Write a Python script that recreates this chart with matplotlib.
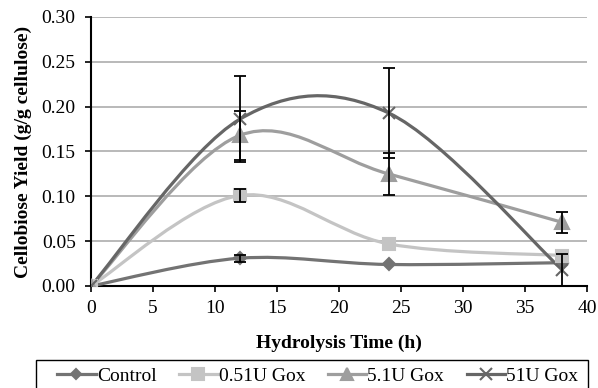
import numpy as np
import matplotlib
matplotlib.use("Agg")
import matplotlib.pyplot as plt
from matplotlib.path import Path
from matplotlib.patches import PathPatch, Rectangle
from matplotlib.lines import Line2D

plt.rcParams['font.family'] = ['Liberation Serif', 'DejaVu Serif']

# ── Data
hours = [0, 12, 24, 38]
labels = ["Control", "0.51U Gox", "5.1U Gox", "51U Gox"]
control = [0.0, 0.031, 0.024, 0.026]
gox_051 = [0.0, 0.101, 0.047, 0.034]
gox_51 = [0.0, 0.168, 0.125, 0.071]
gox_510 = [0.0, 0.186, 0.193, 0.018]
control_err = [0.0, 0.004, 0.0, 0.0]
gox_051_err = [0.0, 0.007, 0.0, 0.0]
gox_51_err = [0.0, 0.027, 0.023, 0.012]
gox_510_err = [0.0, 0.048, 0.050, 0.018]

series = [control, gox_051, gox_51, gox_510]
errors = [control_err, gox_051_err, gox_51_err, gox_510_err]
colors = ["#737373", "#c4c4c4", "#9e9e9e", "#666666"]
markers = ["D", "s", "^", "x"]
msizes = [6.5, 9, 9.5, 9]


# ── Excel-style smoothed line (Catmull-Rom as cubic Bezier)
def smooth_path(x, y):
    pts = np.column_stack([x, y]).astype(float)
    n = len(pts)
    verts = [pts[0]]
    codes = [Path.MOVETO]
    for i in range(n - 1):
        p0 = pts[max(i - 1, 0)]
        p1 = pts[i]
        p2 = pts[i + 1]
        p3 = pts[min(i + 2, n - 1)]
        c1 = p1 + (p2 - p0) / 6.0
        c2 = p2 - (p3 - p1) / 6.0
        verts += [c1, c2, p2]
        codes += [Path.CURVE4] * 3
    return Path(verts, codes)


W, H = 598, 388
fig = plt.figure(figsize=(W / 100, H / 100), dpi=100)
ax = fig.add_axes([91 / W, 1 - 286 / H, 496 / W, 269 / H])

for y, col in zip(series, colors):
    patch = PathPatch(smooth_path(hours, y), facecolor="none",
                      edgecolor=col, lw=2.3, zorder=3, capstyle="round")
    ax.add_patch(patch)

for y, e, col, m, ms in zip(series, errors, colors, markers, msizes):
    idx = [i for i, v in enumerate(e) if v > 0]
    ax.errorbar([hours[i] for i in idx], [y[i] for i in idx],
                yerr=[e[i] for i in idx], fmt="none", ecolor="black",
                elinewidth=1.3, capsize=4, capthick=1.3, zorder=5)
    ax.plot(hours, y, linestyle="none", marker=m, markersize=ms,
            color=col, markeredgecolor=col, markeredgewidth=1.5, zorder=4)

ax.set_xlim(0, 40)
ax.set_ylim(0, 0.30)
ax.set_xticks(np.arange(0, 41, 5))
ax.set_yticks(np.arange(0, 0.31, 0.05))
ax.set_yticklabels([f"{v:.2f}" for v in np.arange(0, 0.31, 0.05)])
ax.yaxis.grid(True, color="#a6a6a6", lw=1.1)
ax.set_axisbelow(True)
for s in ["top", "right"]:
    ax.spines[s].set_visible(False)
for s in ["left", "bottom"]:
    ax.spines[s].set_linewidth(1.5)
    ax.spines[s].set_color("black")
ax.tick_params(axis="both", labelsize=14, direction="out", length=4,
               width=1.2, colors="black")
ax.tick_params(axis="y", pad=7)
ax.tick_params(axis="x", pad=6)

ax.set_xlabel("Hydrolysis Time (h)", fontsize=14, fontweight="bold", labelpad=13)
ax.set_ylabel("Cellobiose Yield (g/g cellulose)", fontsize=14,
              fontweight="bold", labelpad=7)

# legend box (frame drawn separately so it can run off the bottom edge)
fig.patches.append(Rectangle((36 / W, 1 - 396 / H), 552 / W, 36 / H,
                             transform=fig.transFigure, facecolor="white",
                             edgecolor="black", lw=1.0, zorder=0))
handles = [Line2D([0], [0], color=c, lw=2.3, marker=m, markersize=ms - 1,
                  markeredgewidth=1.5)
           for c, m, ms in zip(colors, markers, msizes)]
leg = fig.legend(handles, labels, ncol=4, loc="center left",
                 bbox_to_anchor=(57 / W, 1 - 376 / H),
                 fontsize=14, frameon=False, handlelength=2.0,
                 handletextpad=0.05, borderpad=0, borderaxespad=0,
                 columnspacing=1.15)

fig.savefig("out.png", dpi=100)
